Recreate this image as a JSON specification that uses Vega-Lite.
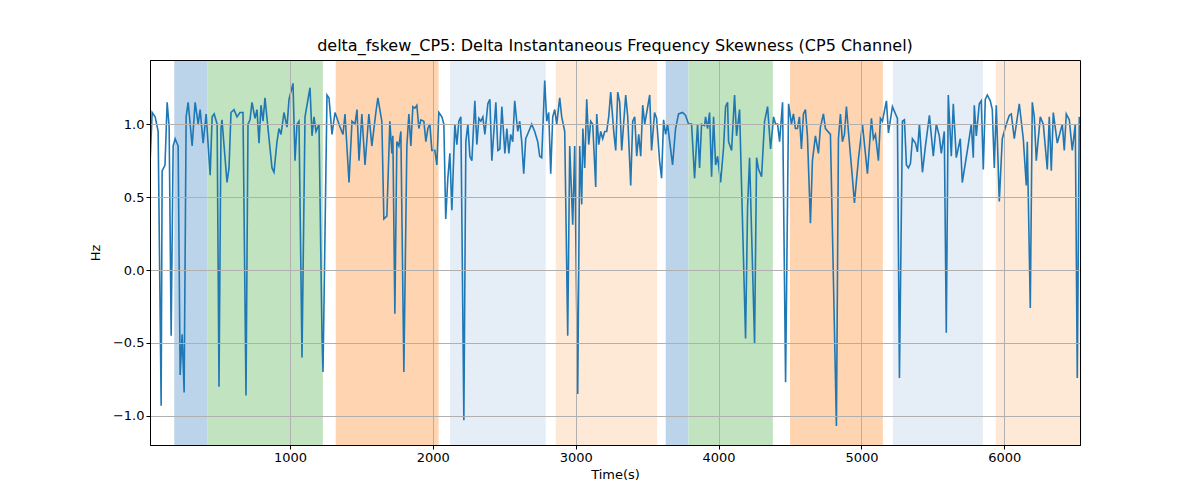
{
  "$schema": "https://vega.github.io/schema/vega-lite/v6.json",
  "width": 930,
  "height": 385,
  "autosize": "none",
  "padding": {"left": 150, "top": 60, "right": 120, "bottom": 55},
  "title": {"text": "delta_fskew_CP5: Delta Instantaneous Frequency Skewness (CP5 Channel)", "fontSize": 16, "fontWeight": "normal", "font": "DejaVu Sans", "offset": 6},
  "datasets": {
    "bands": [
      {"s": 190, "e": 420, "k": "a"}, {"s": 420, "e": 1230, "k": "b"}, {"s": 1320, "e": 2040, "k": "c"},
      {"s": 2120, "e": 2790, "k": "d"}, {"s": 2860, "e": 3570, "k": "e"}, {"s": 3630, "e": 3790, "k": "a"},
      {"s": 3790, "e": 4380, "k": "b"}, {"s": 4500, "e": 5150, "k": "c"}, {"s": 5220, "e": 5850, "k": "d"},
      {"s": 5940, "e": 6540, "k": "e"}
    ],
    "sig": [
      {"t":21,"v":0.75},{"t":35,"v":1.08},{"t":56,"v":1.05},{"t":77,"v":0.95},{"t":98,"v":-0.93},{"t":105,"v":0.68},{"t":125,"v":0.72},{"t":140,"v":1.15},{"t":154,"v":0.98},{"t":168,"v":-0.45},{"t":182,"v":0.85},{"t":196,"v":0.9},{"t":217,"v":0.85},{"t":231,"v":-0.72},{"t":245,"v":-0.44},{"t":259,"v":-0.84},{"t":273,"v":1.05},{"t":287,"v":1.15},{"t":315,"v":0.85},{"t":336,"v":1.15},{"t":357,"v":1.0},{"t":371,"v":1.1},{"t":392,"v":0.87},{"t":413,"v":1.07},{"t":441,"v":0.65},{"t":455,"v":1.05},{"t":469,"v":1.07},{"t":490,"v":1.0},{"t":503,"v":-0.8},{"t":517,"v":0.97},{"t":524,"v":1.03},{"t":559,"v":0.6},{"t":573,"v":0.7},{"t":587,"v":1.08},{"t":608,"v":1.1},{"t":629,"v":1.05},{"t":650,"v":1.08},{"t":671,"v":1.08},{"t":692,"v":-0.86},{"t":706,"v":1.0},{"t":720,"v":1.03},{"t":734,"v":1.15},{"t":755,"v":1.04},{"t":769,"v":1.1},{"t":783,"v":0.87},{"t":797,"v":1.13},{"t":811,"v":1.02},{"t":825,"v":1.18},{"t":846,"v":0.97},{"t":874,"v":0.7},{"t":888,"v":0.67},{"t":909,"v":0.88},{"t":923,"v":0.97},{"t":937,"v":0.93},{"t":958,"v":1.08},{"t":979,"v":0.98},{"t":993,"v":1.17},{"t":1021,"v":1.28},{"t":1035,"v":0.75},{"t":1049,"v":1.0},{"t":1063,"v":1.02},{"t":1084,"v":-0.6},{"t":1105,"v":1.05},{"t":1140,"v":1.25},{"t":1154,"v":0.92},{"t":1168,"v":1.05},{"t":1182,"v":0.95},{"t":1203,"v":1.0},{"t":1224,"v":-0.46},{"t":1231,"v":-0.7},{"t":1259,"v":1.2},{"t":1273,"v":1.18},{"t":1294,"v":0.93},{"t":1315,"v":1.08},{"t":1350,"v":0.98},{"t":1371,"v":0.93},{"t":1385,"v":1.07},{"t":1413,"v":0.6},{"t":1434,"v":1.02},{"t":1455,"v":1.0},{"t":1469,"v":1.1},{"t":1483,"v":0.75},{"t":1503,"v":1.07},{"t":1525,"v":0.72},{"t":1552,"v":1.07},{"t":1573,"v":0.85},{"t":1601,"v":1.08},{"t":1615,"v":1.18},{"t":1643,"v":1.02},{"t":1657,"v":0.35},{"t":1678,"v":0.37},{"t":1699,"v":1.02},{"t":1713,"v":0.8},{"t":1720,"v":0.92},{"t":1734,"v":-0.3},{"t":1748,"v":0.88},{"t":1762,"v":0.85},{"t":1776,"v":0.95},{"t":1797,"v":-0.7},{"t":1818,"v":0.85},{"t":1832,"v":1.07},{"t":1846,"v":0.85},{"t":1860,"v":1.12},{"t":1874,"v":1.11},{"t":1888,"v":1.13},{"t":1902,"v":0.97},{"t":1916,"v":1.03},{"t":1937,"v":1.02},{"t":1951,"v":0.88},{"t":1965,"v":0.97},{"t":1979,"v":1.0},{"t":1993,"v":0.82},{"t":2014,"v":0.82},{"t":2028,"v":0.72},{"t":2042,"v":1.08},{"t":2063,"v":1.05},{"t":2077,"v":1.0},{"t":2090,"v":0.35},{"t":2105,"v":0.63},{"t":2119,"v":0.8},{"t":2133,"v":0.41},{"t":2154,"v":1.0},{"t":2168,"v":0.86},{"t":2182,"v":1.02},{"t":2196,"v":1.05},{"t":2217,"v":-1.03},{"t":2231,"v":0.88},{"t":2245,"v":1.0},{"t":2259,"v":0.78},{"t":2273,"v":0.75},{"t":2294,"v":1.16},{"t":2308,"v":0.86},{"t":2322,"v":1.04},{"t":2336,"v":1.02},{"t":2350,"v":1.05},{"t":2364,"v":0.93},{"t":2385,"v":1.14},{"t":2399,"v":1.17},{"t":2413,"v":0.75},{"t":2441,"v":1.15},{"t":2455,"v":0.82},{"t":2469,"v":0.83},{"t":2483,"v":1.12},{"t":2504,"v":0.8},{"t":2518,"v":0.97},{"t":2532,"v":0.8},{"t":2545,"v":0.93},{"t":2559,"v":0.88},{"t":2573,"v":1.16},{"t":2594,"v":0.95},{"t":2608,"v":1.02},{"t":2622,"v":0.88},{"t":2636,"v":0.66},{"t":2650,"v":0.9},{"t":2671,"v":0.95},{"t":2692,"v":1.0},{"t":2713,"v":0.95},{"t":2734,"v":0.88},{"t":2748,"v":0.78},{"t":2762,"v":0.77},{"t":2783,"v":1.3},{"t":2797,"v":1.02},{"t":2811,"v":1.08},{"t":2825,"v":0.66},{"t":2839,"v":1.05},{"t":2853,"v":1.1},{"t":2867,"v":1.0},{"t":2888,"v":1.18},{"t":2902,"v":1.05},{"t":2923,"v":0.95},{"t":2944,"v":-0.45},{"t":2958,"v":0.85},{"t":2979,"v":0.31},{"t":2993,"v":0.85},{"t":3014,"v":-0.85},{"t":3028,"v":0.85},{"t":3042,"v":0.45},{"t":3050,"v":0.97},{"t":3063,"v":0.7},{"t":3077,"v":1.17},{"t":3091,"v":0.86},{"t":3105,"v":1.02},{"t":3119,"v":1.0},{"t":3140,"v":0.57},{"t":3147,"v":1.07},{"t":3161,"v":0.86},{"t":3175,"v":0.95},{"t":3189,"v":0.9},{"t":3203,"v":0.95},{"t":3217,"v":0.95},{"t":3231,"v":1.05},{"t":3245,"v":1.22},{"t":3266,"v":0.95},{"t":3280,"v":0.82},{"t":3294,"v":1.22},{"t":3308,"v":1.15},{"t":3322,"v":0.82},{"t":3350,"v":1.2},{"t":3364,"v":1.05},{"t":3385,"v":0.58},{"t":3399,"v":1.02},{"t":3413,"v":1.05},{"t":3427,"v":0.78},{"t":3441,"v":0.93},{"t":3455,"v":0.78},{"t":3469,"v":1.13},{"t":3483,"v":1.0},{"t":3504,"v":1.12},{"t":3518,"v":1.2},{"t":3531,"v":0.82},{"t":3552,"v":1.08},{"t":3566,"v":1.04},{"t":3587,"v":0.75},{"t":3601,"v":0.63},{"t":3615,"v":1.03},{"t":3629,"v":0.93},{"t":3643,"v":1.0},{"t":3678,"v":0.72},{"t":3699,"v":0.97},{"t":3720,"v":1.07},{"t":3748,"v":1.08},{"t":3769,"v":1.06},{"t":3790,"v":1.0},{"t":3811,"v":1.0},{"t":3832,"v":0.63},{"t":3853,"v":1.0},{"t":3867,"v":0.7},{"t":3881,"v":1.0},{"t":3902,"v":0.99},{"t":3909,"v":1.05},{"t":3923,"v":0.97},{"t":3937,"v":1.08},{"t":3951,"v":0.64},{"t":3965,"v":1.05},{"t":3979,"v":0.72},{"t":3993,"v":0.78},{"t":4014,"v":0.6},{"t":4035,"v":0.84},{"t":4049,"v":1.12},{"t":4063,"v":1.15},{"t":4070,"v":0.88},{"t":4091,"v":0.82},{"t":4112,"v":1.2},{"t":4126,"v":0.92},{"t":4147,"v":1.1},{"t":4189,"v":-0.47},{"t":4203,"v":0.43},{"t":4217,"v":0.77},{"t":4252,"v":-0.5},{"t":4266,"v":0.77},{"t":4280,"v":0.69},{"t":4301,"v":0.64},{"t":4322,"v":1.02},{"t":4343,"v":1.12},{"t":4364,"v":0.83},{"t":4385,"v":1.05},{"t":4399,"v":1.0},{"t":4413,"v":1.0},{"t":4427,"v":0.88},{"t":4448,"v":1.15},{"t":4469,"v":-0.77},{"t":4490,"v":1.14},{"t":4510,"v":1.0},{"t":4524,"v":1.07},{"t":4538,"v":0.97},{"t":4552,"v":0.97},{"t":4566,"v":1.05},{"t":4580,"v":0.83},{"t":4594,"v":1.07},{"t":4608,"v":1.1},{"t":4622,"v":0.92},{"t":4643,"v":0.32},{"t":4657,"v":0.75},{"t":4678,"v":0.92},{"t":4699,"v":0.8},{"t":4713,"v":0.98},{"t":4734,"v":1.07},{"t":4748,"v":0.97},{"t":4783,"v":0.93},{"t":4825,"v":-1.07},{"t":4839,"v":0.9},{"t":4853,"v":1.07},{"t":4867,"v":0.88},{"t":4881,"v":0.93},{"t":4895,"v":1.12},{"t":4909,"v":0.95},{"t":4937,"v":0.63},{"t":4951,"v":0.46},{"t":4979,"v":0.76},{"t":5007,"v":1.0},{"t":5042,"v":0.66},{"t":5070,"v":1.04},{"t":5084,"v":0.9},{"t":5098,"v":0.93},{"t":5119,"v":0.75},{"t":5133,"v":1.04},{"t":5147,"v":1.02},{"t":5175,"v":1.16},{"t":5189,"v":0.94},{"t":5217,"v":1.12},{"t":5252,"v":1.04},{"t":5266,"v":-0.74},{"t":5287,"v":1.02},{"t":5301,"v":1.03},{"t":5315,"v":0.72},{"t":5329,"v":0.7},{"t":5343,"v":0.73},{"t":5357,"v":0.9},{"t":5378,"v":0.87},{"t":5392,"v":0.81},{"t":5406,"v":1.0},{"t":5427,"v":0.67},{"t":5448,"v":0.85},{"t":5476,"v":1.06},{"t":5503,"v":0.78},{"t":5524,"v":1.0},{"t":5545,"v":0.92},{"t":5559,"v":0.8},{"t":5580,"v":0.95},{"t":5594,"v":-0.43},{"t":5608,"v":1.2},{"t":5629,"v":0.78},{"t":5643,"v":1.14},{"t":5664,"v":0.77},{"t":5692,"v":0.9},{"t":5706,"v":0.6},{"t":5748,"v":0.86},{"t":5769,"v":1.0},{"t":5783,"v":0.77},{"t":5790,"v":1.13},{"t":5804,"v":0.92},{"t":5825,"v":1.14},{"t":5839,"v":1.16},{"t":5853,"v":0.69},{"t":5867,"v":1.17},{"t":5881,"v":1.2},{"t":5902,"v":1.16},{"t":5916,"v":1.1},{"t":5930,"v":0.7},{"t":5944,"v":1.13},{"t":5965,"v":0.47},{"t":5986,"v":0.9},{"t":6014,"v":1.0},{"t":6035,"v":1.06},{"t":6049,"v":1.07},{"t":6070,"v":0.9},{"t":6105,"v":1.14},{"t":6133,"v":0.9},{"t":6154,"v":0.58},{"t":6161,"v":0.88},{"t":6182,"v":-0.26},{"t":6196,"v":1.15},{"t":6210,"v":1.05},{"t":6224,"v":0.75},{"t":6252,"v":1.05},{"t":6273,"v":1.0},{"t":6301,"v":0.69},{"t":6315,"v":1.05},{"t":6329,"v":0.68},{"t":6343,"v":1.08},{"t":6371,"v":0.87},{"t":6406,"v":1.0},{"t":6420,"v":0.82},{"t":6434,"v":1.07},{"t":6455,"v":1.03},{"t":6476,"v":0.82},{"t":6497,"v":1.0},{"t":6511,"v":-0.74},{"t":6525,"v":1.05}
    ]
  },
  "resolve": {"axis": {"x": "independent", "y": "independent"}},
  "layer": [
    {
      "data": {"name": "bands"},
      "mark": {"type": "rect"},
      "encoding": {
        "x": {"field": "s", "type": "quantitative", "scale": {"domain": [20, 6530], "nice": false, "zero": false},
          "axis": {"orient": "top", "labels": false, "ticks": false, "grid": false, "title": null, "domain": true, "zindex": 2}},
        "x2": {"field": "e"},
        "y": {"value": 0},
        "y2": {"value": 385},
        "color": {"field": "k", "type": "nominal", "legend": null, "scale": {"domain": ["a", "b", "c", "d", "e"], "range": ["#bbd4e9", "#c1e3bf", "#ffd5b1", "#e5edf7", "#fee9d6"]}}
      }
    },
    {
      "data": {"name": "bands"},
      "mark": {"type": "rule", "opacity": 0},
      "encoding": {
        "y": {"datum": 0, "type": "quantitative", "scale": {"domain": [-1.2, 1.44], "nice": false},
          "axis": {"orient": "right", "labels": false, "ticks": false, "grid": false, "title": null, "domain": true, "zindex": 2}}
      }
    },
    {
      "data": {"name": "sig"},
      "mark": {"type": "line", "color": "#1f77b4", "strokeWidth": 1.6, "clip": true},
      "encoding": {
        "x": {"field": "t", "type": "quantitative", "title": "Time(s)", "scale": {"domain": [20, 6530], "nice": false, "zero": false},
          "axis": {"values": [1000, 2000, 3000, 4000, 5000, 6000], "format": "d", "grid": true, "domain": true, "zindex": 1}},
        "y": {"field": "v", "type": "quantitative", "title": "Hz", "scale": {"domain": [-1.2, 1.44], "nice": false},
          "axis": {"values": [-1, -0.5, 0, 0.5, 1], "format": ".1f", "grid": true, "domain": true, "zindex": 1}}
      }
    }
  ],
  "config": {
    "font": "DejaVu Sans",
    "view": {"stroke": "#000", "strokeWidth": 1},
    "axis": {"gridColor": "#b0b0b0", "gridOpacity": 1, "gridWidth": 1, "domainColor": "#000", "tickColor": "#000", "tickSize": 4,
      "labelFontSize": 13, "labelColor": "#000", "titleFontSize": 13, "titleFontWeight": "normal", "titleColor": "#000", "labelFont": "DejaVu Sans", "titleFont": "DejaVu Sans"},
    "axisX": {"titlePadding": 4},
    "axisY": {"titlePadding": 10}
  }
}
